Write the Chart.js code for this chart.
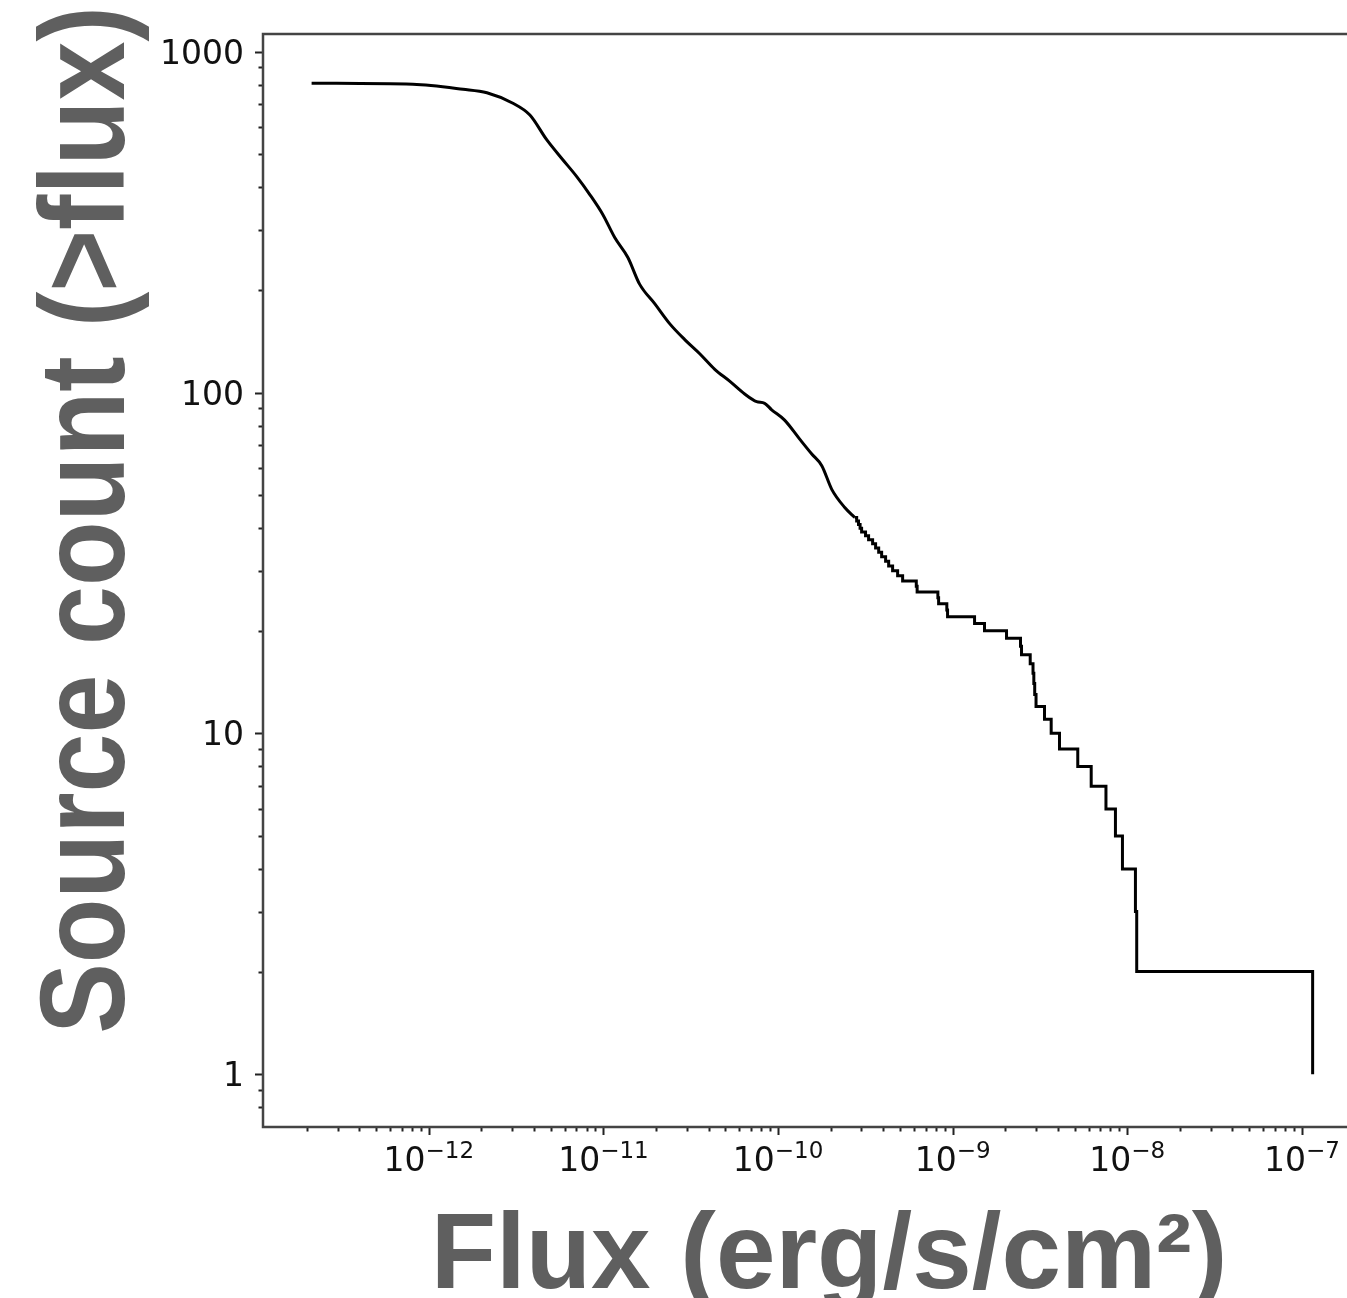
<!DOCTYPE html>
<html>
<head>
<meta charset="utf-8">
<script src="https://cdn.jsdelivr.net/npm/chart.js@4.4.1/dist/chart.umd.min.js"></script>
<style>
  html, body { margin: 0; padding: 0; background: #fff; overflow: hidden; }
  #wrap { position: relative; width: 1380px; height: 1298px; }
</style>
</head>
<body>
<div id="wrap"><canvas id="logn" width="1380" height="1298"></canvas></div>
<script>
// Cumulative source counts N(>S) against flux S (erg/s/cm^2).

// Faint end, where the count is large: the curve as a run of points.
const smoothFlux = [2.13e-13, 8.10e-13, 1.57e-12, 2.15e-12, 3.03e-12, 3.79e-12, 4.74e-12,
  5.85e-12, 7.03e-12, 8.35e-12, 9.91e-12, 1.16e-11, 1.38e-11, 1.61e-11, 1.97e-11, 2.40e-11,
  2.92e-11, 3.56e-11, 4.34e-11, 5.28e-11, 6.44e-11, 7.54e-11, 8.38e-11, 9.19e-11, 1.09e-10,
  1.33e-10, 1.56e-10, 1.78e-10, 2.03e-10, 2.41e-10, 2.75e-10];
const smoothCount = [808, 802, 776, 758, 706, 652, 551, 482, 430, 381, 333, 285, 249, 208,
  182, 159, 143, 130, 117, 108, 99, 94, 93, 89, 83, 73, 66, 61, 52, 46, 43];

// Bright end: one step down per source.
const stepFlux = [2.75e-10, 2.82e-10, 2.89e-10, 2.95e-10, 3.01e-10, 3.17e-10, 3.30e-10,
  3.48e-10, 3.62e-10, 3.77e-10, 3.92e-10, 4.13e-10, 4.30e-10, 4.53e-10, 4.84e-10, 5.17e-10,
  6.19e-10, 6.26e-10, 8.23e-10, 8.31e-10, 9.26e-10, 9.35e-10, 1.335e-9, 1.522e-9, 2.035e-9,
  2.447e-9, 2.480e-9, 2.781e-9, 2.886e-9, 2.917e-9, 2.951e-9, 3.003e-9, 3.358e-9, 3.667e-9,
  4.092e-9, 5.207e-9, 6.216e-9, 7.552e-9, 8.558e-9, 9.387e-9, 1.114e-8, 1.133e-8, 1.153e-7];
const stepCount = [43, 42, 41, 40, 39, 38, 37, 36, 35, 34, 33, 32, 31, 30, 29, 28, 27, 26,
  25, 24, 23, 22, 21, 20, 19, 18, 17, 16, 15, 14, 13, 12, 11, 10, 9, 8, 7, 6, 5, 4, 3, 2, 1];

// Axis limits and labelled ticks
const xLimits = [1.122e-13, 2.30e-7];
const yLimits = [0.714, 1127];
const xTickExponents = [-12, -11, -10, -9, -8, -7];
const yTickValues = [1, 10, 100, 1000];
const yTickLabels = ['1', '10', '100', '1000'];

const xTitle = 'Flux (erg/s/cm\u00B2)';
const yTitle = 'Source count (>flux)';

const toPoints = (xs, ys) => xs.map((x, i) => ({ x: x, y: ys[i] }));

function minorValues(lo, hi) {
  const out = [];
  for (let e = Math.floor(Math.log10(lo)); e <= Math.ceil(Math.log10(hi)); e++) {
    for (let k = 1; k <= 9; k++) {
      const v = k * Math.pow(10, e);
      if (v >= lo && v <= hi) out.push({ v: v, major: k === 1 });
    }
  }
  return out;
}

const axesDecor = {
  id: 'axesDecor',
  afterDatasetsDraw(chart) {
    const ctx = chart.ctx;
    const a = chart.chartArea;
    const xs = chart.scales.x, ys = chart.scales.y;
    ctx.save();

    // tick marks (outward)
    ctx.strokeStyle = '#222';
    ctx.lineWidth = 2;
    ctx.beginPath();
    minorValues(yLimits[0], yLimits[1]).forEach(t => {
      const py = Math.round(ys.getPixelForValue(t.v)) + 0.5;
      const len = t.major ? 8 : 4.5;
      ctx.moveTo(a.left, py); ctx.lineTo(a.left - len, py);
    });
    minorValues(xLimits[0], xLimits[1]).forEach(t => {
      const px = Math.round(xs.getPixelForValue(t.v)) + 0.5;
      const len = t.major ? 8 : 4.5;
      ctx.moveTo(px, a.bottom); ctx.lineTo(px, a.bottom + len);
    });
    ctx.stroke();

    // frame
    ctx.strokeStyle = '#444';
    ctx.lineWidth = 2.5;
    ctx.beginPath();
    ctx.moveTo(a.right, a.top);
    ctx.lineTo(a.left, a.top);
    ctx.lineTo(a.left, a.bottom);
    ctx.lineTo(a.right, a.bottom);
    ctx.stroke();

    // y tick labels
    ctx.fillStyle = '#111';
    ctx.font = '33px "DejaVu Sans"';
    ctx.textAlign = 'right';
    ctx.textBaseline = 'alphabetic';
    yTickValues.forEach((v, i) => {
      const py = ys.getPixelForValue(v);
      ctx.fillText(yTickLabels[i], a.left - 19, py + 12);
    });

    // x tick labels: 10 with a raised exponent
    ctx.textAlign = 'left';
    xTickExponents.forEach(e => {
      const px = xs.getPixelForValue(Math.pow(10, e));
      const base = '10';
      const sup = '\u2212' + String(Math.abs(e));
      ctx.font = '33px "DejaVu Sans"';
      const w1 = ctx.measureText(base).width;
      ctx.font = '23px "DejaVu Sans"';
      const w2 = ctx.measureText(sup).width;
      const x0 = px - (w1 + w2) / 2;
      ctx.font = '33px "DejaVu Sans"';
      ctx.fillText(base, x0, a.bottom + 44);
      ctx.font = '23px "DejaVu Sans"';
      ctx.fillText(sup, x0 + w1, a.bottom + 31);
    });

    // axis titles
    ctx.fillStyle = '#5f5f5f';
    ctx.font = 'bold 107px "Liberation Sans"';
    ctx.textAlign = 'center';
    ctx.fillText(xTitle, 829, 1288);
    ctx.translate(124, 520);
    ctx.rotate(-Math.PI / 2);
    ctx.scale(1, 1.14);
    ctx.font = 'bold 106px "Liberation Sans"';
    ctx.fillText(yTitle, 0, 0);
    ctx.restore();
  }
};

new Chart(document.getElementById('logn'), {
  type: 'line',
  data: {
    datasets: [
      {
        data: toPoints(smoothFlux, smoothCount),
        borderColor: '#000', borderWidth: 3, pointRadius: 0, fill: false,
        cubicInterpolationMode: 'monotone', borderJoinStyle: 'round'
      },
      {
        data: toPoints(stepFlux, stepCount),
        borderColor: '#000', borderWidth: 3, pointRadius: 0, fill: false,
        stepped: 'before', borderJoinStyle: 'miter'
      }
    ]
  },
  options: {
    responsive: false,
    devicePixelRatio: 1,
    animation: false,
    events: [],
    layout: { padding: { left: 263, right: 15, top: 34, bottom: 171 } },
    plugins: { legend: { display: false }, tooltip: { enabled: false } },
    scales: {
      x: { type: 'logarithmic', min: xLimits[0], max: xLimits[1], display: false },
      y: { type: 'logarithmic', min: yLimits[0], max: yLimits[1], display: false }
    }
  },
  plugins: [axesDecor]
});
</script>
</body>
</html>
